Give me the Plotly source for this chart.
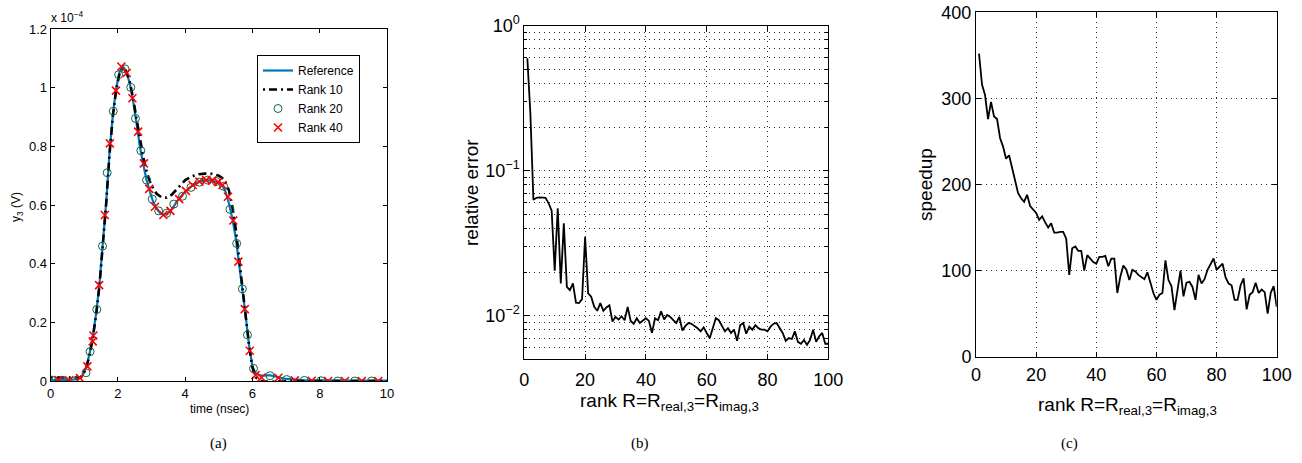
import plotly.graph_objects as go

# ---------------- Panel (a) data (y in units of 1e-4 V) ----------------
t_ref = [0, 0.5, 0.8, 0.95, 1.05, 1.15, 1.25, 1.35, 1.45, 1.55, 1.65, 1.75, 1.85, 1.95,
         2.05, 2.15, 2.25, 2.35, 2.45, 2.55, 2.65, 2.75, 2.85, 2.95, 3.05, 3.15, 3.25,
         3.35, 3.45, 3.6, 3.8, 4.0, 4.2, 4.4, 4.6, 4.8, 5.0, 5.1, 5.2, 5.3, 5.4, 5.5,
         5.6, 5.7, 5.8, 5.9, 6.0, 6.1, 6.2, 6.35, 6.5, 6.7, 7.0, 7.5, 8, 9, 10]
y_ref = [0.003, 0.003, 0.006, 0.02, 0.045, 0.09, 0.15, 0.23, 0.33, 0.46, 0.61, 0.78, 0.91, 1.0,
         1.055, 1.072, 1.055, 1.015, 0.955, 0.88, 0.80, 0.74, 0.685, 0.645, 0.61, 0.587, 0.573,
         0.566, 0.568, 0.585, 0.62, 0.645, 0.665, 0.678, 0.685, 0.683, 0.676, 0.667, 0.645, 0.605,
         0.555, 0.49, 0.39, 0.31, 0.22, 0.12, 0.05, 0.025, 0.02, 0.018, 0.02, 0.015, 0.007, 0.003,
         0.002, 0.001, 0.001]

t_r10 = [0, 0.5, 0.9, 1.05, 1.15, 1.25, 1.35, 1.45, 1.55, 1.65, 1.75, 1.85, 1.95, 2.05, 2.15,
         2.25, 2.35, 2.45, 2.55, 2.65, 2.75, 2.85, 2.95, 3.05, 3.15, 3.3, 3.45, 3.6, 3.8, 4.0,
         4.2, 4.4, 4.6, 4.8, 5.0, 5.15, 5.3, 5.4, 5.5, 5.6, 5.7, 5.8, 5.9, 6.0, 6.1, 6.25, 6.5,
         7, 8, 10]
y_r10 = [0.012, 0.012, 0.012, 0.04, 0.085, 0.145, 0.225, 0.325, 0.455, 0.605, 0.775, 0.905,
         0.995, 1.05, 1.068, 1.055, 1.02, 0.965, 0.895, 0.825, 0.765, 0.715, 0.68, 0.655, 0.638,
         0.626, 0.625, 0.635, 0.66, 0.685, 0.698, 0.705, 0.707, 0.706, 0.7, 0.688, 0.65, 0.595,
         0.52, 0.42, 0.32, 0.22, 0.12, 0.045, 0.012, 0.0, -0.003, 0.0, 0.0, 0.0]

t_r20 = [0.03, 0.35, 0.7, 1.05, 1.17, 1.37, 1.54, 1.68, 1.86, 2.02, 2.21, 2.38, 2.52, 2.68,
         2.85, 3.02, 3.21, 3.45, 3.66, 3.92, 4.17, 4.42, 4.67, 4.92, 5.14, 5.33, 5.53, 5.70,
         5.85, 6.03, 6.52, 7.02, 7.54, 8.04, 8.54, 9.04, 9.54]
y_r20 = [0.003, 0.0, 0.0, 0.028, 0.10, 0.244, 0.46, 0.71, 0.92, 1.044, 1.064, 1.001, 0.895,
         0.785, 0.685, 0.62, 0.58, 0.572, 0.603, 0.63, 0.66, 0.678, 0.685, 0.68, 0.664, 0.585,
         0.469, 0.314, 0.157, 0.043, 0.018, 0.005, 0.002, 0.001, 0.0, 0.0, 0.0]

t_r40 = [0.23, 0.55, 0.87, 1.09, 1.25, 1.27, 1.44, 1.61, 1.76, 1.94, 2.10, 2.26, 2.43, 2.60,
         2.77, 2.93, 3.10, 3.35, 3.56, 3.82, 4.02, 4.22, 4.42, 4.62, 4.80, 4.98, 5.11, 5.27,
         5.43, 5.58, 5.77, 5.92, 6.09, 6.27, 6.77, 7.26, 7.76, 8.25, 8.75, 9.25, 9.74]
y_r40 = [0.003, 0.002, 0.01, 0.05, 0.135, 0.155, 0.327, 0.566, 0.81, 0.99, 1.072, 1.05, 0.964,
         0.85, 0.742, 0.655, 0.594, 0.566, 0.58, 0.62, 0.648, 0.668, 0.68, 0.685, 0.683, 0.678,
         0.668, 0.628, 0.547, 0.407, 0.245, 0.103, 0.02, 0.012, 0.011, 0.002, 0.001, 0.0, 0.0,
         0.0, 0.0]

# ---------------- Panel (b) / (c) data ----------------
rank = list(range(1, 101))
rel_error = [0.596, 0.248, 0.0629, 0.065, 0.0655, 0.0655, 0.065, 0.0596, 0.053, 0.0204,
             0.055, 0.0167, 0.0434, 0.0158, 0.015, 0.0167, 0.0123, 0.0122, 0.0130, 0.035,
             0.01426, 0.0135, 0.0115, 0.0108, 0.0122, 0.0108, 0.0114, 0.0118, 0.0091, 0.0098,
             0.0094, 0.0099, 0.0093, 0.0115, 0.0092, 0.0088, 0.0096, 0.0089, 0.0092, 0.0096,
             0.0092, 0.0076, 0.0096, 0.0093, 0.0107, 0.0094, 0.0101, 0.0098, 0.0093, 0.0089,
             0.0098, 0.0079, 0.0085, 0.0089, 0.0088, 0.0085, 0.0082, 0.0078, 0.0083, 0.0076,
             0.0070, 0.0082, 0.0096, 0.0093, 0.0086, 0.0078, 0.0082, 0.0076, 0.0080, 0.0067,
             0.0086, 0.0089, 0.0075, 0.0084, 0.0080, 0.0086, 0.0082, 0.0080, 0.0080, 0.0078,
             0.0084, 0.0088, 0.0089, 0.0082, 0.0076, 0.0067, 0.0070, 0.0069, 0.0078, 0.0066,
             0.0064, 0.0068, 0.0063, 0.0068, 0.0080, 0.0066, 0.0072, 0.0076, 0.0064, 0.0064]
speedup = [352, 316, 304, 276, 296, 279, 276, 254, 244, 230, 234, 219, 203, 190, 184, 180,
           188, 175, 171, 167, 159, 163, 156, 150, 155, 144, 144, 145, 145, 137, 95, 126, 128,
           123, 123, 100, 118, 114, 110, 108, 116, 116, 117, 105, 114, 114, 74, 93, 106, 101,
           89, 101, 99, 95, 93, 90, 98, 85, 74, 66, 72, 74, 112, 89, 82, 54, 77, 100, 70, 86,
           87, 81, 66, 95, 85, 90, 101, 108, 114, 101, 104, 108, 92, 85, 83, 66, 66, 83, 91,
           55, 72, 75, 86, 74, 78, 75, 50, 74, 82, 58]

a_yticks = [0, 0.2, 0.4, 0.6, 0.8, 1.0, 1.2]
a_yticktext = ["0", "0.2", "0.4", "0.6", "0.8", "1", "1.2"]
b_yticks = [0.01, 0.1, 1]
b_yticktext = ["10<sup>\u22122</sup>", "10<sup>\u22121</sup>", "10<sup>0</sup>"]
b_minor = [0.005, 0.006, 0.007, 0.008, 0.009, 0.02, 0.03, 0.04, 0.05, 0.06, 0.07, 0.08,
           0.09, 0.2, 0.3, 0.4, 0.5, 0.6, 0.7, 0.8, 0.9]

W, H = 1302, 463
def px(x):
    return x / W
def py(y):
    return 1 - y / H

SANS = "Liberation Sans, Arial, sans-serif"
SERIF = "Liberation Serif, Times New Roman, serif"
GRID = "rgb(40,40,40)"
GDASH = "1px,4px"

fig = go.Figure()

# panel (a)
fig.add_trace(go.Scatter(x=t_ref, y=y_ref, mode="lines", name="Reference",
                         line=dict(color="rgb(0,118,196)", width=2.2),
                         xaxis="x", yaxis="y"))
fig.add_trace(go.Scatter(x=t_r10, y=y_r10, mode="lines", name="Rank 10",
                         line=dict(color="black", width=2.6, dash="2px,4px,8px,4px"),
                         xaxis="x", yaxis="y"))
fig.add_trace(go.Scatter(x=t_r20, y=y_r20, mode="markers", name="Rank 20",
                         marker=dict(symbol="circle-open", size=8, color="rgb(20,100,60)",
                                     line=dict(width=1)),
                         xaxis="x", yaxis="y"))
fig.add_trace(go.Scatter(x=t_r40, y=y_r40, mode="markers", name="Rank 40",
                         marker=dict(symbol="x-thin-open", size=8, color="red",
                                     line=dict(width=1.6, color="red")),
                         xaxis="x", yaxis="y"))

# panel (b)
fig.add_trace(go.Scatter(x=rank, y=rel_error, mode="lines", showlegend=False,
                         line=dict(color="black", width=1.8), xaxis="x2", yaxis="y2"))
# panel (c)
fig.add_trace(go.Scatter(x=rank, y=speedup, mode="lines", showlegend=False,
                         line=dict(color="black", width=1.8), xaxis="x3", yaxis="y3"))

common = dict(showline=True, linecolor="black", linewidth=1, mirror="ticks",
              ticks="inside", tickcolor="black", zeroline=False, automargin=False)

fig.update_layout(
    width=W, height=H, margin=dict(l=0, r=0, t=0, b=0, autoexpand=False),
    paper_bgcolor="white", plot_bgcolor="white",
    font=dict(family=SANS, color="black"),
    xaxis=dict(domain=[px(50.7), px(387)], range=[0, 10], dtick=2, ticklen=4,
               showgrid=False, tickfont=dict(size=13), anchor="y", **common),
    yaxis=dict(domain=[py(381), py(29)], range=[0, 1.2], tickvals=a_yticks,
               ticktext=a_yticktext, ticklen=4, showgrid=False,
               tickfont=dict(size=13), anchor="x", **common),
    xaxis2=dict(domain=[px(524.3), px(828.3)], range=[0, 100], dtick=20, ticklen=5,
                showgrid=True, gridcolor=GRID, griddash=GDASH, gridwidth=1,
                ticklabelstandoff=4,
                tickfont=dict(size=18), anchor="y2", **common),
    yaxis2=dict(domain=[py(359.3), py(25.7)], type="log", range=[-2.301, 0],
                tickvals=b_yticks, ticktext=b_yticktext, ticklen=5,
                showgrid=True, gridcolor=GRID, griddash=GDASH, gridwidth=1,
                minor=dict(tickvals=b_minor, ticks="inside", ticklen=3, tickcolor="black",
                           showgrid=True, gridcolor=GRID, griddash=GDASH, gridwidth=1),
                tickfont=dict(size=18), anchor="x2", **common),
    xaxis3=dict(domain=[px(976), px(1276.7)], range=[0, 100], dtick=20, ticklen=5,
                showgrid=True, gridcolor=GRID, griddash=GDASH, gridwidth=1,
                ticklabelstandoff=2,
                tickfont=dict(size=18), anchor="y3", **common),
    yaxis3=dict(domain=[py(356.7), py(12.3)], range=[0, 400], dtick=100, ticklen=5,
                showgrid=True, gridcolor=GRID, griddash=GDASH, gridwidth=1,
                tickfont=dict(size=18), anchor="x3", **common),
    legend=dict(x=px(257), y=py(55), xanchor="left", yanchor="top",
                bordercolor="black", borderwidth=1, bgcolor="white",
                font=dict(size=12, family=SANS), tracegroupgap=0),
)

ann = []
def A(text, x, y, size, angle=0, xanchor="center", yanchor="middle", family=SANS):
    ann.append(dict(text=text, x=px(x), y=py(y), xref="paper", yref="paper",
                    showarrow=False, textangle=angle, xanchor=xanchor, yanchor=yanchor,
                    font=dict(size=size, family=family, color="black")))

A("time (nsec)", 219, 409, 12)
A("y<sub>3</sub> (V)", 17, 207, 12, angle=-90)
A("x 10<sup>\u22124</sup>", 49, 17, 12, xanchor="left")
A("relative error", 471, 193, 19, angle=-90)
A("rank R=R<sub>real,3</sub>=R<sub>imag,3</sub>", 670, 402, 19)
A("speedup", 925, 185, 19, angle=-90)
A("rank R=R<sub>real,3</sub>=R<sub>imag,3</sub>", 1127, 406, 19)
A("(a)", 218, 443, 15, family=SERIF)
A("(b)", 640, 443, 15, family=SERIF)
A("(c)", 1069, 443, 15, family=SERIF)
fig.update_layout(annotations=ann)

fig.write_html("out.html", config={"displayModeBar": False},
               post_script="document.body.style.margin='0px';document.body.style.overflow='hidden';")
